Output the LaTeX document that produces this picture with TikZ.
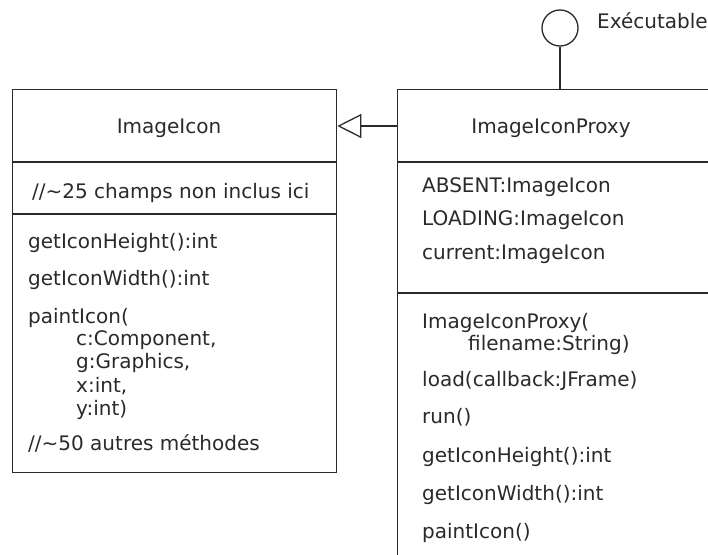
\documentclass[tikz,border=0pt]{standalone}
\usepackage{fontspec}
\setmainfont{DejaVu Sans}
\usetikzlibrary{arrows.meta}
\definecolor{ink}{HTML}{2A2A2A}
\tikzset{
  umlbox/.style={draw=ink, line width=1.3pt, rectangle, inner sep=0pt, anchor=north west},
  sep/.style={draw=ink, line width=1.3pt},
  txt/.style={anchor=base west, inner sep=0pt, text=ink, font=\fontsize{20}{24}\selectfont},
  ttl/.style={anchor=base, inner sep=0pt, text=ink, font=\fontsize{20}{24}\selectfont},
  genarrow/.style={draw=ink, line width=1.3pt, -{Triangle[open, length=24pt, width=24pt]}},
}
\begin{document}
\begin{tikzpicture}[x=1pt,y=-1pt]
\useasboundingbox (0,0) rectangle (708,554);
\clip (0,0) rectangle (708,554);
% boxes
\node[umlbox, minimum width=324pt, minimum height=383pt] (ii) at (12,89) {};
\node[umlbox, minimum width=420pt, minimum height=520pt] (pr) at (397,89) {};
% separators
\draw[sep] (ii.west |- 0,162) -- (ii.east |- 0,162);
\draw[sep] (ii.west |- 0,214) -- (ii.east |- 0,214);
\draw[sep] (pr.west |- 0,162) -- (pr.east |- 0,162);
\draw[sep] (pr.west |- 0,293) -- (pr.east |- 0,293);
% interface lollipop
\node[circle, draw=ink, line width=1.3pt, minimum size=36pt, inner sep=0pt] (run) at (560,28) {};
\draw[sep] (run.south) -- (run.south |- pr.north);
\node[txt] (exe) at (597,28) {Exécutable};
% generalization
\draw[genarrow] (pr.west |- 0,126) -- (ii.east |- 0,126);
% ImageIcon texts
\node[ttl] (iit) at (169,133) {ImageIcon};
\node[txt] (iif) at (32,198) {//\textasciitilde 25 champs non inclus ici};
\node[txt] (iim1) at (28,248) {getIconHeight():int};
\node[txt] (iim2) at (28,285) {getIconWidth():int};
\node[txt] (iim3) at (28,323) {paintIcon(};
\node[txt] (iim4) at (76,345) {c:Component,};
\node[txt] (iim5) at (76,368) {g:Graphics,};
\node[txt] (iim6) at (76,392) {x:int,};
\node[txt] (iim7) at (76,415) {y:int)};
\node[txt] (iim8) at (28,450) {//\textasciitilde 50 autres méthodes};
% ImageIconProxy texts
\node[ttl] (prt) at (551,133) {ImageIconProxy};
\node[txt] (prf1) at (422,192) {ABSENT:ImageIcon};
\node[txt] (prf2) at (422,225) {LOADING:ImageIcon};
\node[txt] (prf3) at (422,259) {current:ImageIcon};
\node[txt] (prm1) at (422,328) {ImageIconProxy(};
\node[txt] (prm2) at (468,350) {filename:String)};
\node[txt] (prm3) at (422,386) {load(callback:JFrame)};
\node[txt] (prm4) at (422,423) {run()};
\node[txt] (prm5) at (422,462) {getIconHeight():int};
\node[txt] (prm6) at (422,500) {getIconWidth():int};
\node[txt] (prm7) at (422,538) {paintIcon()};
\end{tikzpicture}
\end{document}
